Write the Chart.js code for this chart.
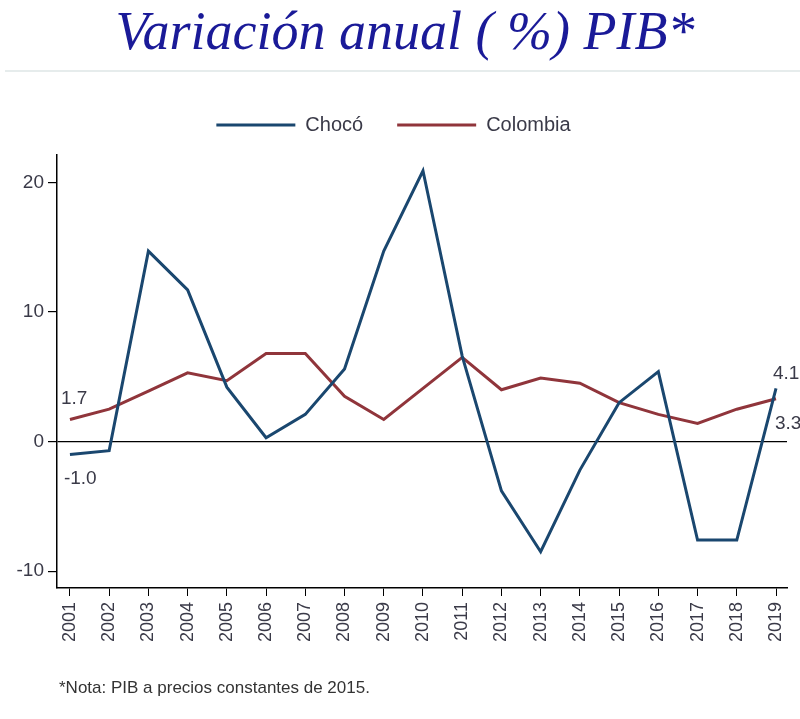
<!DOCTYPE html>
<html>
<head>
<meta charset="utf-8">
<script src="https://cdn.jsdelivr.net/npm/chart.js@4"></script>
<style>
  html, body { margin: 0; padding: 0; background: #fff; }
  #wrap { position: relative; width: 800px; height: 719px; }
</style>
</head>
<body>
<div id="wrap"><canvas id="pib" width="800" height="719"></canvas></div>
<script>
const COLORS = {
  choco: '#1a476f', colombia: '#90353b',
  title: '#1a1a98', text: '#3a3a48', axis: '#000', rule: '#e6ecec',
};

const years = [2001, 2002, 2003, 2004, 2005, 2006, 2007, 2008, 2009, 2010,
  2011, 2012, 2013, 2014, 2015, 2016, 2017, 2018, 2019];
const choco = [-1.0, -0.7, 14.7, 11.7, 4.2, 0.3, 2.1, 5.6, 14.7, 20.9,
  6.6, -3.8, -8.5, -2.2, 3.0, 5.4, -7.6, -7.6, 4.1];
const colombia = [1.7, 2.5, 3.9, 5.3, 4.7, 6.8, 6.8, 3.5, 1.7, 4.1,
  6.5, 4.0, 4.9, 4.5, 3.0, 2.1, 1.4, 2.5, 3.3];
const yTicks = [-10, 0, 10, 20];

const TITLE = 'Variación anual ( %) PIB*';
const NOTE = '*Nota: PIB a precios constantes de 2015.';

// end-point labels, like Stata's mlabel on first/last obs
const endLabels = [
  { ds: 1, i: 0, text: '1.7', dx: -9, dy: -11, base: 'bottom' },
  { ds: 0, i: 0, text: '-1.0', dx: -6, dy: 15, base: 'top' },
  { ds: 0, i: 18, text: '4.1', dx: -3, dy: -5, base: 'bottom' },
  { ds: 1, i: 18, text: '3.3', dx: -1, dy: 15, base: 'top' },
];

const decor = {
  id: 'decor',
  afterDraw(chart) {
    const ctx = chart.ctx;
    ctx.save();
    ctx.fillStyle = COLORS.title;
    ctx.font = 'italic 54px "Liberation Serif"';
    ctx.textAlign = 'center';
    ctx.textBaseline = 'alphabetic';
    ctx.fillText(TITLE, 405, 49);

    ctx.fillStyle = COLORS.rule;
    ctx.fillRect(5, 70, 795, 2);

    ctx.fillStyle = '#333';
    ctx.font = '17px "Liberation Sans"';
    ctx.textAlign = 'left';
    ctx.fillText(NOTE, 59, 693);

    ctx.fillStyle = COLORS.text;
    ctx.font = '19px "Liberation Sans"';
    endLabels.forEach(l => {
      const pt = chart.getDatasetMeta(l.ds).data[l.i];
      ctx.textBaseline = l.base;
      ctx.fillText(l.text, pt.x + l.dx, pt.y + l.dy);
    });
    ctx.restore();
  },
};

const ctx = document.getElementById('pib').getContext('2d');
new Chart(ctx, {
  type: 'line',
  data: {
    datasets: [
      {
        label: 'Chocó',
        data: years.map((y, i) => ({ x: y, y: choco[i] })),
        borderColor: COLORS.choco, backgroundColor: COLORS.choco,
        borderWidth: 3, pointRadius: 0, tension: 0,
      },
      {
        label: 'Colombia',
        data: years.map((y, i) => ({ x: y, y: colombia[i] })),
        borderColor: COLORS.colombia, backgroundColor: COLORS.colombia,
        borderWidth: 3, pointRadius: 0, tension: 0,
      },
    ],
  },
  options: {
    responsive: false, animation: false,
    layout: { padding: { top: 81, right: 13, bottom: 71, left: 0 } },
    plugins: {
      legend: {
        labels: {
          color: COLORS.text, font: { size: 20, family: '"Liberation Sans"' },
          boxWidth: 79, boxHeight: 3, padding: 34,
          generateLabels: chart =>
            Chart.defaults.plugins.legend.labels.generateLabels(chart).map(l => ({ ...l, lineWidth: 0 })),
        },
      },
      // empty subtitle used only as a spacer between legend and plot
      subtitle: { display: true, text: '', weight: 500, font: { size: 1 }, padding: { top: 0, bottom: 9 } },
      tooltip: { enabled: false },
    },
    scales: {
      x: {
        type: 'linear', min: 2000.67, max: 2019.28,
        afterBuildTicks: s => { s.ticks = years.map(v => ({ value: v })); },
        afterFit: s => { s.height = 60; s.paddingLeft = 0; s.paddingRight = 0; },
        ticks: {
          color: COLORS.text, font: { size: 18, family: '"Liberation Sans"' },
          minRotation: 90, maxRotation: 90, autoSkip: false, padding: 6,
          callback: v => String(v),
        },
        grid: { color: 'transparent', tickColor: COLORS.axis, tickLength: 8 },
        border: { color: COLORS.axis, width: 1.5 },
      },
      y: {
        min: -11.3, max: 22.1,
        afterBuildTicks: s => { s.ticks = yTicks.map(v => ({ value: v })); },
        afterFit: s => { s.width = 57; },
        ticks: {
          color: COLORS.text, font: { size: 19, family: '"Liberation Sans"' }, padding: 4,
        },
        grid: {
          color: c => (c.tick && c.tick.value === 0 ? COLORS.axis : 'transparent'),
          tickColor: COLORS.axis, tickLength: 9, lineWidth: 1.2,
        },
        border: { color: COLORS.axis, width: 1.5 },
      },
    },
  },
  plugins: [decor],
});
</script>
</body>
</html>
